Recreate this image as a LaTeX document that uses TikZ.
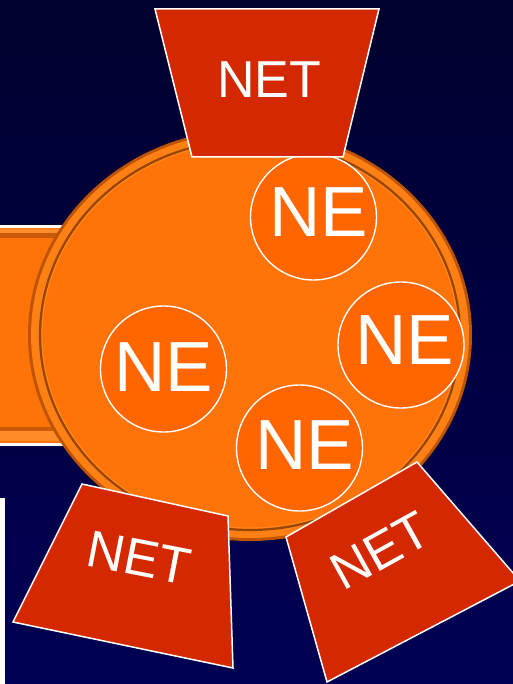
\documentclass[tikz,border=0pt]{standalone}
\usepackage{fontspec}
\setmainfont{Liberation Sans}
\definecolor{bgtop}{RGB}{0,0,46}
\definecolor{bgbot}{RGB}{0,0,84}
\definecolor{discfill}{RGB}{255,115,8}
\definecolor{discedge}{RGB}{190,84,0}
\definecolor{discgroove}{RGB}{150,70,0}
\definecolor{discrim}{RGB}{255,128,20}
\definecolor{nefill}{RGB}{255,102,0}
\definecolor{netfill}{RGB}{212,40,0}
\definecolor{bandstripe}{RGB}{200,90,10}
\definecolor{bandlight}{RGB}{255,140,40}
\tikzset{
  netbox/.style={fill=netfill, draw=white, line width=1.5pt, line join=miter},
  necircle/.style={circle, fill=nefill, draw=white, line width=1.4pt, minimum size=126pt, inner sep=0pt},
  netlabel/.style={text=white, inner sep=0pt, font=\fontsize{52}{52}\selectfont},
  nelabel/.style={text=white, inner sep=0pt, font=\fontsize{71}{71}\selectfont},
}
\begin{document}
\begin{tikzpicture}[x=1pt, y=-1pt]
\useasboundingbox (0,0) rectangle (513,684);
% background
\shade[top color=bgtop, bottom color=bgbot] (0,0) rectangle (513,684);
% white strip at lower left
\fill[white] (0,498) rectangle (5,684);
% left band
\fill[white] (0,225) rectangle (120,446);
\fill[discfill] (0,228.5) rectangle (120,443);
\fill[bandlight] (0,229) rectangle (120,233);
\fill[bandstripe] (0,233) rectangle (120,238);
\fill[bandstripe] (0,427) rectangle (120,430.5);
\fill[bandlight] (0,430.5) rectangle (120,441);
% big disc
\coordinate (disc) at (250,335);
\fill[discedge] (disc) ellipse [x radius=222, y radius=206];
\fill[discrim] (disc) ellipse [x radius=219, y radius=203];
\fill[discfill, draw=discgroove, line width=2.2pt] (disc) ellipse [x radius=210, y radius=195];
\draw[bandlight, line width=0.8pt] (disc) ellipse [x radius=208, y radius=193];
% NE circles
\node[necircle] (c1) at (313.5,217) {};
\node[necircle] (c2) at (401,345) {};
\node[necircle] (c3) at (163.5,369) {};
\node[necircle] (c4) at (299.5,448) {};
\node[nelabel] (t1) at (319,212.5) {NE};
\node[nelabel] (t2) at (405,340.5) {NE};
\node[nelabel] (t3) at (163.5,367.5) {NE};
\node[nelabel] (t4) at (305,445) {NE};
% NET trapezoids
\coordinate (a1) at (155,9);
\coordinate (a2) at (379,9);
\coordinate (a3) at (343,157);
\coordinate (a4) at (192,157);
\draw[netbox] (a1) -- (a2) -- (a3) -- (a4) -- cycle;
\node[netlabel] (n1) at (269,79.5) {NET};
\coordinate (b1) at (82,484);
\coordinate (b2) at (228,516);
\coordinate (b3) at (233,668);
\coordinate (b4) at (13,622);
\draw[netbox] (b1) -- (b2) -- (b3) -- (b4) -- cycle;
\node[netlabel, rotate=-11] (n2) at (139,558) {NET};
\begin{scope}
\clip (0,0) rectangle (513,684);
\coordinate (d1) at (286,537);
\coordinate (d2) at (417,462);
\coordinate (d3) at (520,581);
\coordinate (d4) at (327,682);
\draw[netbox] (d1) -- (d2) -- (d3) -- (d4) -- cycle;
\end{scope}
\node[netlabel, rotate=29] (n3) at (380,551) {NET};
\end{tikzpicture}
\end{document}
